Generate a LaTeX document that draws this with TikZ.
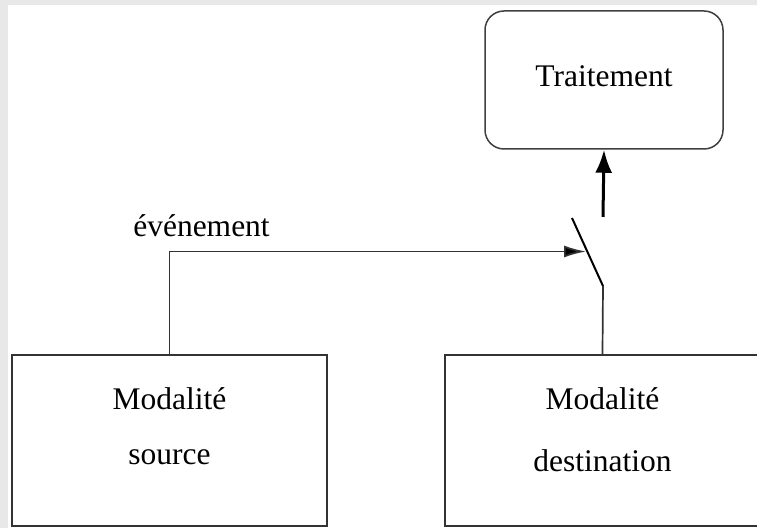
\documentclass[tikz,border=0pt]{standalone}
\usepackage{fontspec}
\setmainfont{Liberation Serif}
\usetikzlibrary{arrows.meta, positioning}

\begin{document}
\begin{tikzpicture}[
	x=0.5pt, y=-0.5pt,
	font=\fontsize{15.75}{19}\selectfont,
	modbox/.style={
		draw=black!80,
		line width=0.85pt,
		rectangle,
		minimum width=157.5pt,
		minimum height=85.5pt,
		inner sep=0pt
	},
	procbox/.style={
		draw=black!75,
		line width=0.75pt,
		rectangle, rounded corners=9.5pt,
		minimum width=119pt,
		minimum height=69pt,
		inner sep=0pt
	},
	txt/.style={anchor=base, inner sep=0pt},
	wire/.style={draw=black!80, line width=0.85pt},
	node distance=10mm
	]
	% page frame
	\useasboundingbox (0,0) rectangle (757,528);
	\fill[gray!18] (0,0) rectangle (757,528);
	\fill[white] (8,5) rectangle (757,528);

	% boxes
	\node[procbox] (trait) at (604,80) {};
	\node[modbox] (src) at (169.5,440.5) {};
	\node[modbox] (dst) at (602.5,440.5) {};

	% texts
	\node[txt] (traitlbl) at (604,86.7) {Traitement};
	\node[txt] (srcA) at (169.5,410) {Modalité};
	\node[txt] (srcB) at (169.5,465) {source};
	\node[txt] (dstA) at (602.5,410) {Modalité};
	\node[txt] (dstB) at (602.5,471.7) {destination};

	% switch
	\coordinate (swtop) at (572,218);
	\coordinate (swpiv) at (603,286);
	\coordinate (swin) at (586,251.5);
	\coordinate (swout) at (603,217);
	\draw[black, line width=1pt] (swtop) -- (swpiv);
	\draw[wire] (swpiv) -- (dst.north);

	% event from the source
	\draw[wire, -{Latex[length=11pt,width=6pt,fill=black]}] (src.north) |- (swin)
		node[txt, pos=0.5, xshift=16pt, yshift=7.5pt] (evt) {événement};

	\draw[black, line width=1.5pt, -{Latex[length=11.5pt,width=8.5pt]}] (swout) -- (trait.south);
\end{tikzpicture}
\end{document}
